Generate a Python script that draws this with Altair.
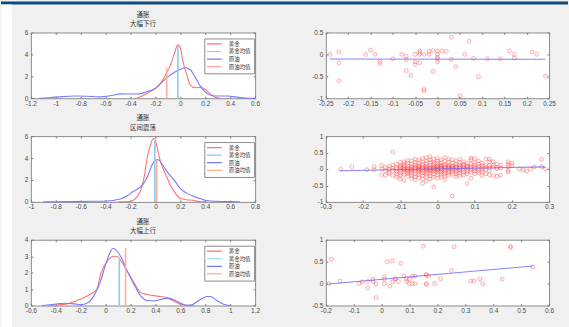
import altair as alt
import pandas as pd

CJK = "Noto Sans CJK SC"
NUM = "Liberation Sans"

SERIES = ["黄金", "黄金均值", "原油", "原油均值"]
SERIES_COLORS = ["#ff7373", "#8ccbf0", "#7a7aff", "#ffae98"]

# ---- density curves: 通胀 大幅下行 ----
down_gold_x = [-0.35, -0.3, -0.25, -0.2, -0.15, -0.12, -0.08, -0.05, -0.02, 0.0, 0.02, 0.05,
               0.08, 0.12, 0.16, 0.2, 0.24, 0.28, 0.32]
down_gold_y = [0.0, 0.25, 0.55, 0.9, 1.5, 2.1, 3.0, 4.0, 4.9, 4.6, 3.4, 2.2,
               1.2, 0.95, 1.0, 0.8, 0.4, 0.1, 0.0]
down_oil_x = [-1.13, -1.05, -0.95, -0.85, -0.75, -0.65, -0.55, -0.48, -0.4, -0.33, -0.27, -0.2,
              -0.15, -0.1, -0.05, 0.0, 0.04, 0.08, 0.12, 0.16, 0.2, 0.25, 0.3, 0.38, 0.45, 0.52, 0.6]
down_oil_y = [0.0, 0.05, 0.15, 0.2, 0.18, 0.12, 0.25, 0.4, 0.38, 0.4, 0.6, 0.9,
              1.45, 1.95, 2.35, 2.65, 2.78, 2.6, 1.9, 1.1, 0.55, 0.25, 0.2, 0.2, 0.1, 0.02, 0.0]
down_means = {"黄金均值": (-0.02, 4.85), "原油均值": (-0.11, 2.8)}

# ---- density curves: 通胀 区间震荡 ----
flat_gold_x = [-0.3, -0.2, -0.17, -0.12, -0.09, -0.067, -0.04, -0.02, -0.01, 0.0, 0.02, 0.04,
               0.07, 0.093, 0.12, 0.147, 0.2, 0.25, 0.3, 0.35, 0.4]
flat_gold_y = [0.0, 0.05, 0.2, 1.0, 2.3, 4.0, 5.2, 5.75, 5.8, 5.6, 4.6, 3.7,
               2.8, 2.2, 1.5, 1.0, 0.3, 0.2, 0.15, 0.03, 0.0]
flat_oil_x = [-0.9, -0.7, -0.5, -0.4, -0.33, -0.27, -0.22, -0.18, -0.14, -0.1, -0.06, -0.03, 0.0,
              0.02, 0.05, 0.09, 0.15, 0.2, 0.25, 0.31, 0.36, 0.41, 0.49, 0.6, 0.68]
flat_oil_y = [0.0, 0.02, 0.05, 0.08, 0.15, 0.3, 0.6, 0.95, 1.2, 1.6, 2.4, 3.3, 3.8,
              3.85, 3.5, 2.8, 2.0, 1.2, 0.8, 0.5, 0.3, 0.12, 0.05, 0.02, 0.0]
flat_means = {"黄金均值": (-0.005, 5.6), "原油均值": (0.01, 3.8)}

# ---- density curves: 通胀 大幅上行 ----
up_gold_x = [-0.45, -0.31, -0.2, -0.12, -0.07, -0.04, 0.013, 0.067, 0.093, 0.133, 0.173, 0.227,
             0.28, 0.333, 0.413, 0.493, 0.547, 0.613, 0.667, 0.71]
up_gold_y = [0.0, 0.1, 0.4, 0.7, 1.0, 1.9, 2.7, 3.0, 2.98, 2.6, 2.1, 1.4,
             0.8, 0.67, 0.57, 0.47, 0.27, 0.06, 0.0, 0.02]
up_oil_x = [-0.51, -0.41, -0.33, -0.25, -0.2, -0.147, -0.093, -0.04, 0.0, 0.04, 0.061, 0.093,
            0.133, 0.173, 0.227, 0.28, 0.333, 0.387, 0.467, 0.507, 0.573, 0.653, 0.693, 0.747,
            0.813, 0.84, 0.893, 0.947, 1.0]
up_oil_y = [0.0, 0.08, 0.14, 0.1, 0.05, 0.15, 0.6, 1.5, 2.5, 3.3, 3.48, 3.3,
            2.8, 2.1, 1.3, 0.6, 0.3, 0.27, 0.42, 0.45, 0.25, 0.02, 0.05, 0.3,
            0.55, 0.55, 0.3, 0.08, 0.0]
up_means = {"黄金均值": (0.11, 2.9), "原油均值": (0.16, 3.5)}

# ---- scatter: 大幅下行 ----
down_sc_x = [-0.241, -0.221, -0.221, -0.221, -0.161, -0.15, -0.14, -0.129, -0.129, -0.1, -0.08,
             -0.07, -0.07, -0.07, -0.06, -0.05, -0.05, -0.05, -0.04, -0.04, -0.04, -0.04, -0.03,
             -0.03, -0.03, -0.019, -0.019, -0.01, -0.01, 0.0, 0.0, 0.0, 0.0, 0.0, 0.01, 0.02,
             0.031, 0.031, 0.041, 0.051, 0.061, 0.071, 0.081, 0.092, 0.112, 0.141, 0.161, 0.172,
             0.172, 0.212, 0.222, 0.242]
down_sc_y = [0.0, 0.06, -0.19, -0.6, 0.0, 0.1, 0.0, -0.16, -0.21, -0.1, 0.0,
             -0.04, -0.12, -0.37, -0.48, 0.0, -0.17, -0.23, 0.08, 0.04, 0.0, -0.19, 0.0,
             -0.79, -0.83, 0.0, 0.07, 0.09, -0.39, 0.08, 0.0, -0.06, -0.1, -0.17, 0.08, 0.07,
             0.39, -0.11, -0.28, -0.95, 0.0, 0.3, -0.09, -0.51, -0.1, -0.1, 0.08, 0.0,
             -0.08, 0.06, 0.0, -0.5]
down_fit_x = [-0.241, 0.242]
down_fit_y = [-0.105, -0.112]

# ---- scatter: 区间震荡 (columns of returns sharing an x value) ----
mid_cols = [-0.26, -0.23, -0.19, -0.17, -0.15, -0.14, -0.13, -0.12, -0.11, -0.10, -0.09, -0.08,
            -0.07, -0.06, -0.05, -0.04, -0.03, -0.02, -0.01, 0.0, 0.01, 0.02, 0.03, 0.04, 0.05,
            0.06, 0.07, 0.08, 0.09, 0.10, 0.11, 0.12, 0.13, 0.14, 0.15, 0.16, 0.17, 0.19, 0.2,
            0.22, 0.23, 0.24, 0.25, 0.26, 0.28, 0.29]
mid_rows = [
    [-0.01], [0.07], [-0.02], [0.07, -0.02], [0.0, 0.11, -0.17], [0.05, -0.05, -0.19],
    [0.0, 0.08, -0.14, -0.1], [0.52, 0.12, -0.04, -0.2, 0.03],
    [0.15, 0.04, -0.08, -0.15, 0.0, -0.25],
    [0.2, 0.1, 0.02, -0.05, -0.12, -0.2, -0.3, 0.06],
    [0.22, 0.14, 0.05, -0.02, -0.1, -0.17, -0.35, 0.0, 0.1],
    [0.18, 0.1, 0.03, -0.04, -0.08, -0.14, -0.22, 0.26, 0.0],
    [0.25, 0.16, 0.08, 0.0, -0.06, -0.12, -0.2, -0.28, 0.04, -0.02],
    [0.3, 0.2, 0.12, 0.05, -0.01, -0.07, -0.15, -0.24, -0.33, 0.02],
    [0.27, 0.18, 0.1, 0.04, -0.03, -0.1, -0.18, -0.26, 0.0, 0.07, -0.05],
    [0.32, 0.22, 0.14, 0.07, 0.01, -0.05, -0.12, -0.2, -0.3, -0.44, 0.03],
    [0.35, 0.25, 0.16, 0.09, 0.02, -0.03, -0.09, -0.16, -0.23, -0.36, 0.05, -0.01],
    [0.38, 0.28, 0.2, 0.12, 0.05, 0.0, -0.06, -0.13, -0.21, -0.3, 0.02, -0.03],
    [0.3, 0.22, 0.15, 0.08, 0.03, -0.02, -0.08, -0.15, -0.25, -0.54, 0.0, 0.05],
    [0.34, 0.24, 0.17, 0.1, 0.04, -0.01, -0.05, -0.11, -0.18, -0.27, 0.01, 0.07, -0.03],
    [0.27, 0.19, 0.12, 0.06, 0.0, -0.04, -0.1, -0.17, -0.24, 0.03, 0.09],
    [0.35, 0.23, 0.14, 0.08, 0.02, -0.03, -0.08, -0.14, -0.22, -0.32, 0.05],
    [0.3, 0.2, 0.11, 0.05, 0.0, -0.06, -0.12, -0.2, 0.08, 0.02],
    [0.28, 0.18, 0.1, 0.04, -0.02, -0.09, -0.16, -0.82, 0.06, 0.01],
    [0.25, 0.15, 0.09, 0.03, -0.03, -0.08, -0.15, -0.23, 0.05],
    [0.3, 0.2, 0.12, 0.06, 0.0, -0.05, -0.12, -0.2, 0.03],
    [0.22, 0.14, 0.07, 0.02, -0.04, -0.1, -0.18, 0.1],
    [0.18, 0.1, 0.04, -0.02, -0.08, -0.15, -0.44, 0.07],
    [0.33, 0.28, 0.15, 0.08, 0.03, -0.03, -0.1, -0.28],
    [0.32, 0.2, 0.12, 0.05, 0.0, -0.07, -0.15],
    [0.25, 0.15, 0.08, 0.02, -0.05, -0.12],
    [0.18, 0.1, 0.04, -0.03, -0.1, -0.2],
    [0.3, 0.12, 0.05, -0.02, -0.15],
    [0.3, 0.22, 0.1, 0.03, -0.05, -0.18],
    [0.22, 0.12, 0.06, -0.2],
    [0.15, 0.05, -0.22, 0.0],
    [0.12, -0.19, 0.03],
    [0.22, 0.14, 0.07, -0.09, -0.04],
    [0.18, 0.1], [0.0], [-0.03], [-0.07], [0.0], [0.06], [0.29, 0.07], [0.0],
]
mid_fit_x = [-0.263, 0.289]
mid_fit_y = [-0.055, 0.065]

# ---- scatter: 大幅上行 ----
up_sc_x = [-0.189, -0.18, -0.15, -0.08, -0.07, -0.05, -0.05, -0.031, -0.031, -0.02, -0.02,
           0.01, 0.01, 0.01, 0.02, 0.029, 0.039, 0.039, 0.049, 0.049, 0.06, 0.069, 0.08, 0.089,
           0.089, 0.099, 0.099, 0.11, 0.11, 0.119, 0.119, 0.15, 0.16, 0.16, 0.16, 0.16, 0.169,
           0.19, 0.211, 0.25, 0.26, 0.319, 0.33, 0.352, 0.362, 0.432, 0.462, 0.462, 0.542]
up_sc_y = [0.0, 0.56, 0.06, 0.0, 0.04, -0.1, 0.05, 0.1, 0.04, -0.01, -0.32,
           0.16, 0.1, 0.0, 0.5, -0.06, 0.52, 0.04, 0.1, 0.11, 0.05, 0.46, 0.17, 0.11,
           0.05, 0.1, 0.0, 0.17, 0.0, 0.17, 0.0, 0.85, 0.21, 0.19, 0.0, -0.02, 0.17,
           0.0, 0.11, 0.3, 0.84, 0.06, 0.06, 0.11, 0.0, 0.1, 0.85, 0.82, 0.38]
up_fit_x = [-0.19, 0.542]
up_fit_y = [-0.01, 0.40]

# ---- axis tick values ----
down_xticks = [-1.2, -1, -0.8, -0.6, -0.4, -0.2, 0, 0.2, 0.4, 0.6]
flat_xticks = [-1, -0.8, -0.6, -0.4, -0.2, 0, 0.2, 0.4, 0.6, 0.8]
up_xticks = [-0.6, -0.4, -0.2, 0, 0.2, 0.4, 0.6, 0.8, 1, 1.2]
dens6_yticks = [0, 2, 4, 6]
dens4_yticks = [0, 1, 2, 3, 4]
down_sc_xticks = [-0.25, -0.2, -0.15, -0.1, -0.05, 0, 0.05, 0.1, 0.15, 0.2, 0.25]
down_sc_yticks = [-1, -0.5, 0, 0.5]
mid_sc_xticks = [-0.3, -0.2, -0.1, 0, 0.1, 0.2, 0.3]
mid_sc_yticks = [-1, -0.5, 0, 0.5, 1]
up_sc_xticks = [-0.2, -0.1, 0, 0.1, 0.2, 0.3, 0.4, 0.5, 0.6]
up_sc_yticks = [-0.5, 0, 0.5, 1]

LEFT_W, RIGHT_W, PANEL_H = 225, 224, 66
LABEL_EXPR = "replace(format(datum.value, '~g'), '\u2212', '-')"


def tick_axis(values, orient, labels=True):
    """Inward ticks (via negative offset) in the MATLAB box style."""
    return alt.Axis(
        values=values, orient=orient, labels=labels, title=None, grid=False,
        domain=False, ticks=True, tickSize=2, offset=-2, tickColor="#7a7a7a",
        labelExpr=LABEL_EXPR, labelFont=NUM, labelFontSize=6.5, labelColor="#4a4a4a",
        labelPadding=2 if orient in ("bottom", "top") else 3, labelFlush=False,
        labelOverlap=False,
    )


def density_panel(title2, gx, gy, ox, oy, means, xdom, xticks, ydom, yticks):
    curves = pd.DataFrame({
        "x": gx + ox,
        "y": gy + oy,
        "series": ["黄金"] * len(gx) + ["原油"] * len(ox),
    })
    mean_df = pd.DataFrame({
        "series": list(means.keys()),
        "x": [v[0] for v in means.values()],
        "y0": [0.0, 0.0],
        "y1": [v[1] for v in means.values()],
    })
    xs = alt.Scale(domain=xdom, nice=False, zero=False)
    ys = alt.Scale(domain=ydom, nice=False, zero=False)
    color = alt.Color(
        "series:N", title=None,
        scale=alt.Scale(domain=SERIES, range=SERIES_COLORS),
        legend=alt.Legend(
            orient="none", legendX=174, legendY=6, direction="vertical",
            fillColor="white", strokeColor="#8c8c8c", padding=2.5, rowPadding=0.6,
            clipHeight=6, symbolType="M-2,0H2", symbolSize=56, symbolStrokeWidth=1.2,
            symbolOffset=3, labelOffset=10, labelFont=CJK, labelFontSize=5.5,
            labelColor="#333333", cornerRadius=0,
        ),
    )
    lines = alt.Chart(curves).mark_line(strokeWidth=1.1, interpolate="monotone").encode(
        x=alt.X("x:Q", scale=xs, axis=tick_axis(xticks, "bottom")),
        y=alt.Y("y:Q", scale=ys, axis=tick_axis(yticks, "left")),
        color=color,
        detail="series:N",
    )
    rules = alt.Chart(mean_df).mark_rule(strokeWidth=1.6).encode(
        x=alt.X("x:Q", scale=xs, axis=tick_axis(xticks, "top", labels=False)),
        y=alt.Y("y0:Q", scale=ys, axis=tick_axis(yticks, "right", labels=False)),
        y2="y1:Q",
        color=color,
    )
    return alt.layer(lines, rules).resolve_axis(x="independent", y="independent").properties(
        width=LEFT_W, height=PANEL_H,
        title=alt.TitleParams(
            ["通胀", title2], font=CJK, fontSize=6.5, fontWeight="normal",
            color="#333333", lineHeight=9.5, offset=2, anchor="middle", frame="group",
        ),
    )


def scatter_panel(px, py, fx, fy, xdom, xticks, ydom, yticks, extra=None):
    pts = pd.DataFrame({"x": px, "y": py})
    fit = pd.DataFrame({"x": fx, "y": fy})
    xs = alt.Scale(domain=xdom, nice=False, zero=False)
    ys = alt.Scale(domain=ydom, nice=False, zero=False)
    dots = alt.Chart(pts).mark_point(
        shape="circle", filled=False, size=14, strokeWidth=0.8, color="#ff3c3c", opacity=0.55,
    ).encode(
        x=alt.X("x:Q", scale=xs, axis=tick_axis(xticks, "bottom")),
        y=alt.Y("y:Q", scale=ys, axis=tick_axis(yticks, "left")),
    )
    line = alt.Chart(fit).mark_line(strokeWidth=1.1, color="#6f6fff", opacity=0.85).encode(
        x=alt.X("x:Q", scale=xs, axis=tick_axis(xticks, "top", labels=False)),
        y=alt.Y("y:Q", scale=ys, axis=tick_axis(yticks, "right", labels=False)),
    )
    layers = ([extra] if extra is not None else []) + [dots, line]
    return alt.layer(*layers).resolve_axis(x="independent", y="independent").properties(
        width=RIGHT_W, height=PANEL_H,
    )


# window chrome (title bar strip and left margin strip), positioned from the
# top-right panel's origin so it stays clear of the panel titles
one_row = alt.Data(values=[{"k": 0}])
chrome = alt.layer(
    alt.Chart(one_row).mark_rect(color="#0d4a7c").encode(
        x=alt.value(-326), x2=alt.value(243), y=alt.value(-31), y2=alt.value(-28)),
    alt.Chart(one_row).mark_rect(color="#ffffff").encode(
        x=alt.value(-326), x2=alt.value(-315), y=alt.value(-28), y2=alt.value(296)),
)

mid_x = [c for c, row in zip(mid_cols, mid_rows) for _ in row]
mid_y = [v for row in mid_rows for v in row]

p1 = density_panel("大幅下行", down_gold_x, down_gold_y, down_oil_x, down_oil_y, down_means,
                   [-1.2, 0.6], down_xticks, [0, 6], dens6_yticks)
p2 = scatter_panel(down_sc_x, down_sc_y, down_fit_x, down_fit_y,
                   [-0.25, 0.25], down_sc_xticks, [-1, 0.5], down_sc_yticks, extra=chrome)
p3 = density_panel("区间震荡", flat_gold_x, flat_gold_y, flat_oil_x, flat_oil_y, flat_means,
                   [-1, 0.8], flat_xticks, [0, 6], dens6_yticks)
p4 = scatter_panel(mid_x, mid_y, mid_fit_x, mid_fit_y,
                   [-0.3, 0.3], mid_sc_xticks, [-1, 1], mid_sc_yticks)
p5 = density_panel("大幅上行", up_gold_x, up_gold_y, up_oil_x, up_oil_y, up_means,
                   [-0.6, 1.2], up_xticks, [0, 4], dens4_yticks)
p6 = scatter_panel(up_sc_x, up_sc_y, up_fit_x, up_fit_y,
                   [-0.2, 0.6], up_sc_xticks, [-0.5, 1], up_sc_yticks)

chart = alt.concat(
    p1, p2, p3, p4, p5, p6,
    columns=2, spacing={"row": 38, "column": 71}, bounds="flush",
).resolve_scale(color="independent").properties(
    background="#f0f0f0", padding=0,
).configure_view(
    fill="white", stroke="#8c8c8c", strokeWidth=1,
)

chart.save("out.html", embed_options={"renderer": "svg", "actions": False})
